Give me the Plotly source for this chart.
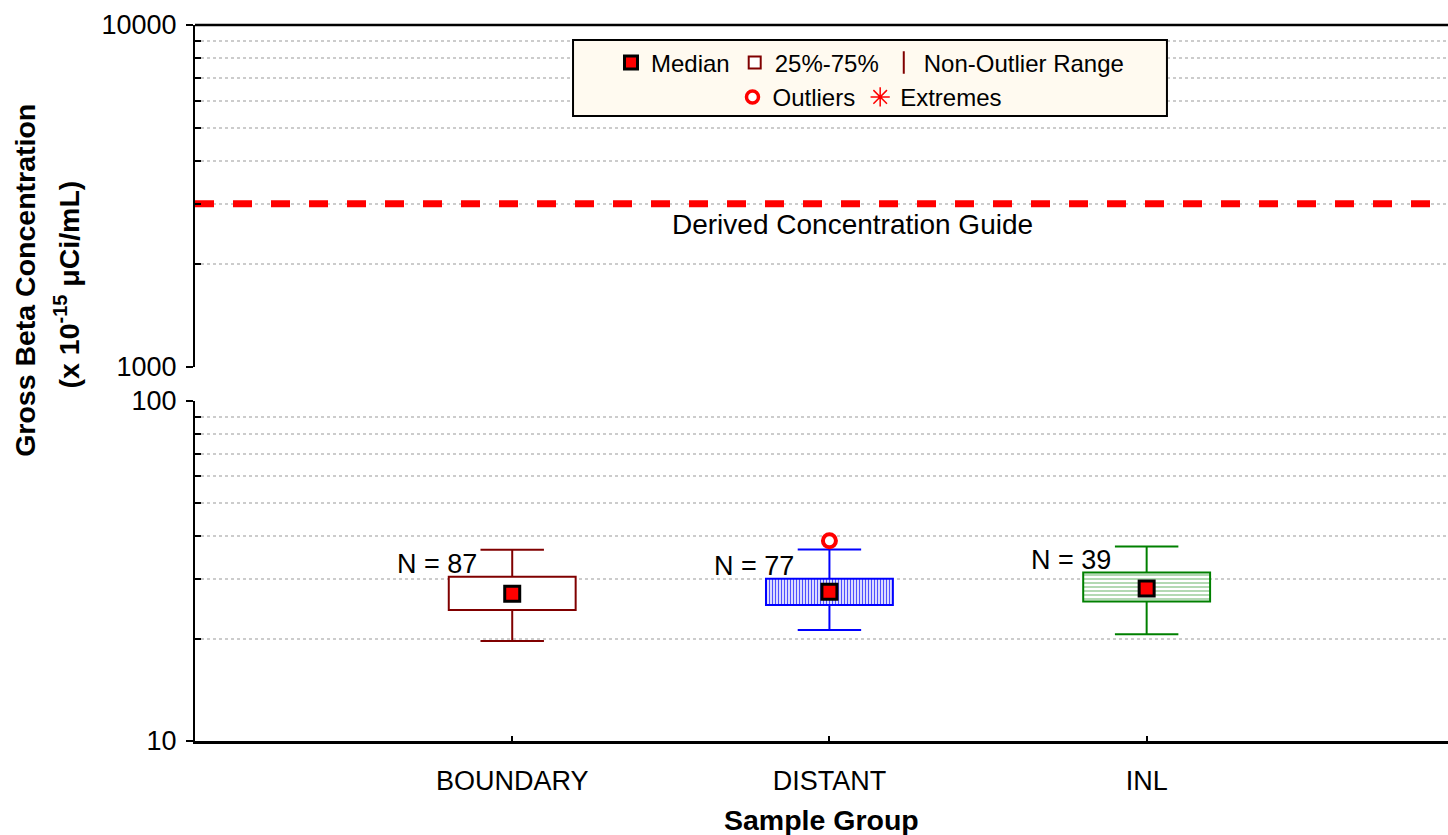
import plotly.graph_objects as go
import math

# ---------------- data ----------------
categories = ["BOUNDARY", "DISTANT", "INL"]
n_counts = [87, 77, 39]
q1 = [24.3, 25.1, 25.7]
medians = [27.1, 27.5, 28.1]
q3 = [30.4, 30.0, 31.3]
whisker_low = [19.7, 21.2, 20.6]
whisker_high = [36.5, 36.6, 37.3]
outlier_groups = ["DISTANT"]
outlier_values = [38.8]
dcg_value = 3000
dcg_label = "Derived Concentration Guide"
lower_ticks = [10, 100]
lower_minor = [20, 30, 40, 50, 60, 70, 80, 90]
upper_ticks = [1000, 10000]
upper_minor = [2000, 3000, 4000, 5000, 6000, 7000, 8000, 9000]

# ---------------- styles ----------------
line_colors = ["#800000", "#0000FF", "#008000"]
patterns = [
    dict(shape="", bgcolor="white"),
    dict(shape="|", fgcolor="#5050ff", bgcolor="#dcdcff", size=3, solidity=0.35, fillmode="replace"),
    dict(shape="-", fgcolor="#80c080", bgcolor="#ffffff", size=4, solidity=0.3, fillmode="replace"),
]
FONT = "Liberation Sans, Arial, sans-serif"
X_RANGE = [-1, 2.95]
BOX_W = 0.4
CAP_W = 0.2

fig = go.Figure()

xs = list(range(len(categories)))

# boxes (25%-75%)
for i, cat in enumerate(categories):
    fig.add_trace(go.Bar(
        x=[xs[i]], y=[q3[i] - q1[i]], base=[q1[i]], width=BOX_W,
        marker=dict(color=patterns[i]["bgcolor"], pattern=patterns[i],
                    line=dict(color=line_colors[i], width=2)),
        showlegend=False, yaxis="y", xaxis="x", hoverinfo="skip"))

# whiskers
for i, cat in enumerate(categories):
    x0 = xs[i]
    wx = [x0, x0, None, x0, x0, None,
          x0 - CAP_W / 2, x0 + CAP_W / 2, None, x0 - CAP_W / 2, x0 + CAP_W / 2]
    wy = [q3[i], whisker_high[i], None, q1[i], whisker_low[i], None,
          whisker_high[i], whisker_high[i], None, whisker_low[i], whisker_low[i]]
    fig.add_trace(go.Scatter(x=wx, y=wy, mode="lines",
                             line=dict(color=line_colors[i], width=2),
                             showlegend=False, hoverinfo="skip"))

# medians
fig.add_trace(go.Scatter(
    x=xs, y=medians, mode="markers",
    marker=dict(symbol="square", size=15, color="#ff0000",
                line=dict(color="black", width=3)),
    showlegend=False, hoverinfo="skip"))

# outliers
fig.add_trace(go.Scatter(
    x=[categories.index(g) for g in outlier_groups], y=outlier_values, mode="markers",
    marker=dict(symbol="circle", size=13, color="white",
                line=dict(color="#ff0000", width=4)),
    showlegend=False, hoverinfo="skip"))

# DCG line on upper axis
fig.add_trace(go.Scatter(
    x=X_RANGE, y=[dcg_value, dcg_value], mode="lines", yaxis="y2",
    line=dict(color="#ff0000", width=7, dash="19px,19px"),
    showlegend=False, hoverinfo="skip"))

# legend dummy traces
fig.add_trace(go.Scatter(x=[None], y=[None], mode="markers", name="Median",
                         marker=dict(symbol="square", size=13, color="#ff0000",
                                     line=dict(color="black", width=3)),
                         legend="legend"))
fig.add_trace(go.Bar(x=[None], y=[None], name="25%-75%",
                     marker=dict(color="white", line=dict(color="#800000", width=2)),
                     legend="legend"))
fig.add_trace(go.Scatter(x=[None], y=[None], mode="markers", name="Non-Outlier Range",
                         marker=dict(symbol="line-ns", size=20, color="#800000",
                                     line=dict(color="#800000", width=2)),
                         legend="legend"))
fig.add_trace(go.Scatter(x=[None], y=[None], mode="markers", name="Outliers",
                         marker=dict(symbol="circle", size=12, color="white",
                                     line=dict(color="#ff0000", width=3.5)),
                         legend="legend2"))
fig.add_trace(go.Scatter(x=[None], y=[None], mode="markers", name="Extremes",
                         marker=dict(symbol="asterisk", size=16, color="#ff0000",
                                     line=dict(color="#ff0000", width=1.5)),
                         legend="legend2"))

# N labels
annotations = []
for i, cat in enumerate(categories):
    annotations.append(dict(
        x=xs[i] - 0.105, y=math.log10(q3[i]), xref="x", yref="y",
        text=f"N = {n_counts[i]}", showarrow=False, xanchor="right", yanchor="bottom",
        yshift=-4, font=dict(size=27, color="black", family=FONT)))

annotations.append(dict(
    x=0.525, xref="paper", y=math.log10(dcg_value), yref="y2", yshift=-21,
    text=dcg_label, showarrow=False, xanchor="center", yanchor="middle",
    font=dict(size=28, color="black", family=FONT)))

annotations.append(dict(
    x=-0.1357, xref="paper", y=0.644, yref="paper", textangle=-90,
    text="<b>Gross Beta Concentration</b>", showarrow=False,
    xanchor="center", yanchor="middle",
    font=dict(size=28.5, color="black", family=FONT)))
annotations.append(dict(
    x=-0.1025, xref="paper", y=0.637, yref="paper", textangle=-90,
    text="<b>(x 10<sup>-15</sup> \u03bcCi/mL)</b>", showarrow=False,
    xanchor="center", yanchor="middle",
    font=dict(size=28.5, color="black", family=FONT)))
annotations.append(dict(
    x=0.5, xref="paper", y=-0.1103, yref="paper",
    text="<b>Sample Group</b>", showarrow=False,
    xanchor="center", yanchor="middle",
    font=dict(size=28.5, color="black", family=FONT)))

grid_common = dict(
    type="log", showline=True, linecolor="black", linewidth=2,
    ticks="outside", ticklen=7, tickwidth=2, tickcolor="black",
    showgrid=True, gridcolor="#cccccc", griddash="dot", gridwidth=1.5,
    zeroline=False, tickfont=dict(size=27, color="black", family=FONT),
    ticklabelstandoff=4,
)

fig.update_layout(
    width=1448, height=835,
    margin=dict(l=195, r=0, t=25, b=94),
    paper_bgcolor="white", plot_bgcolor="white",
    font=dict(family=FONT, color="black"),
    barmode="overlay", hovermode=False,
    xaxis=dict(range=X_RANGE, tickvals=xs, ticktext=categories,
               ticks="inside", ticklen=5, tickwidth=1.5, tickcolor="black",
               showline=True, linecolor="black", linewidth=2.5,
               showgrid=False, zeroline=False, anchor="y",
               ticklabelstandoff=14,
               tickfont=dict(size=27, color="black", family=FONT)),
    yaxis=dict(domain=[0, 340 / 716], range=[1, 2], tickvals=lower_ticks,
               ticktext=[str(v) for v in lower_ticks],
               minor=dict(tickvals=lower_minor, ticks="inside", ticklen=6,
                          tickwidth=2, tickcolor="black", showgrid=True,
                          gridcolor="#cccccc", griddash="dot", gridwidth=1.5),
               anchor="x", **grid_common),
    yaxis2=dict(domain=[(741 - 367) / 716, 1], range=[3, 4], tickvals=upper_ticks,
                ticktext=[str(v) for v in upper_ticks],
                minor=dict(tickvals=upper_minor, ticks="inside", ticklen=6,
                           tickwidth=2, tickcolor="black", showgrid=True,
                           gridcolor="#cccccc", griddash="dot", gridwidth=1.5),
                anchor="x", **grid_common),
    legend=dict(orientation="h", x=0.5387, y=0.947, xanchor="center", yanchor="middle",
                bgcolor="rgba(0,0,0,0)", borderwidth=0,
                font=dict(size=24, color="black", family=FONT), itemsizing="trace"),
    legend2=dict(orientation="h", x=0.5387, y=0.899, xanchor="center", yanchor="middle",
                 bgcolor="rgba(0,0,0,0)", borderwidth=0,
                 font=dict(size=24, color="black", family=FONT), itemsizing="trace"),
    annotations=annotations,
    shapes=[
        dict(type="line", xref="paper", yref="paper", x0=0, x1=1, y0=1, y1=1,
             line=dict(color="black", width=2.5)),
        dict(type="rect", xref="paper", yref="paper", x0=0.3017, x1=0.7757,
             y0=0.873, y1=0.979, fillcolor="#fffaf0",
             line=dict(color="black", width=2), layer="above"),
    ],
)

fig.write_html("out.html")
